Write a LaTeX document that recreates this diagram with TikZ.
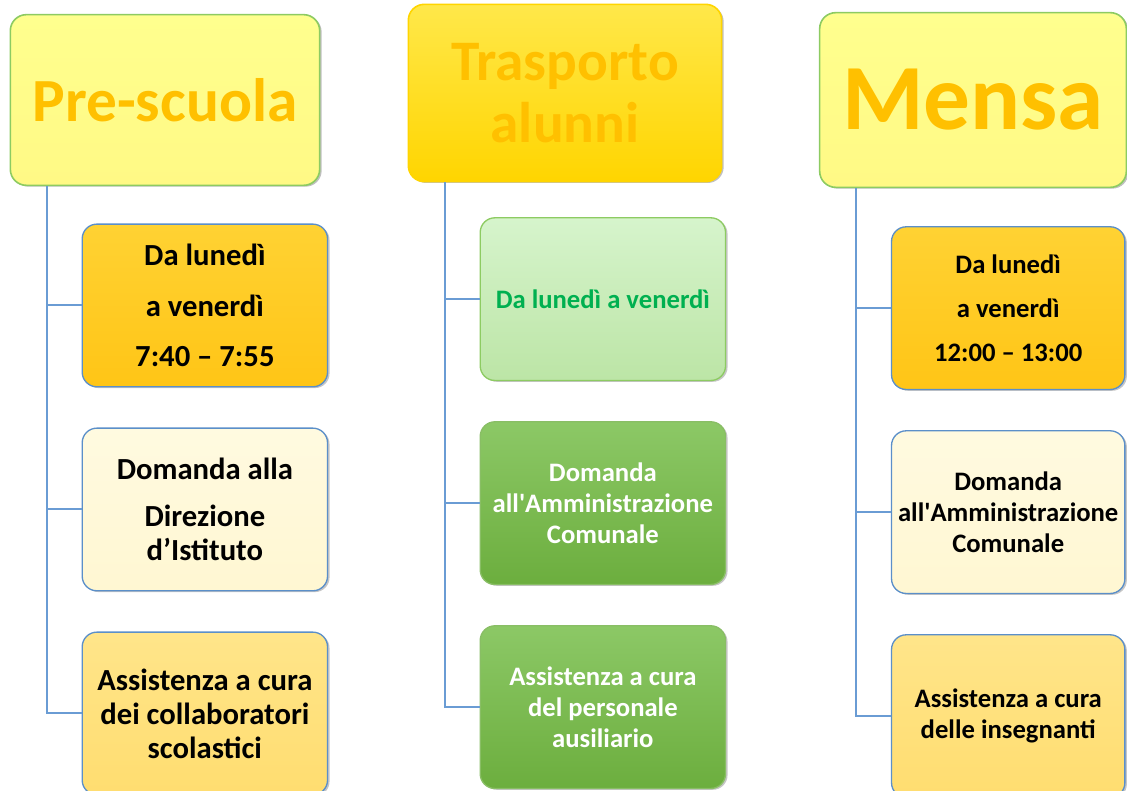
\documentclass[tikz,border=0pt]{standalone}
\usepackage{fontspec}
\setmainfont{Carlito}
\usetikzlibrary{positioning, shadows}
\definecolor{arancio}{HTML}{FFC000}
\definecolor{bordoverde}{HTML}{8DCB62}
\definecolor{bordoblu}{HTML}{5B8FC9}
\definecolor{linea}{HTML}{6A9CD4}
\definecolor{verdetesto}{HTML}{00B050}
\definecolor{giallosu}{HTML}{FFFF8E}
\definecolor{giallogiu}{HTML}{FFF985}
\definecolor{orosu}{HTML}{FFE84A}
\definecolor{orogiu}{HTML}{FFD500}
\definecolor{orariosu}{HTML}{FFD233}
\definecolor{orariogiu}{HTML}{FFC516}
\definecolor{cremasu}{HTML}{FFFAE0}
\definecolor{cremagiu}{HTML}{FFF7D2}
\definecolor{ambrasu}{HTML}{FFE58A}
\definecolor{ambragiu}{HTML}{FFDD70}
\definecolor{chiarosu}{HTML}{D6F4CC}
\definecolor{chiarogiu}{HTML}{BCE5A6}
\definecolor{verdesu}{HTML}{8CC866}
\definecolor{verdegiu}{HTML}{6CAE3E}
\tikzstyle{titolo} = [rectangle,
			rounded corners=12pt,
			draw=bordoverde,
			line width=1.2pt,
			top color=giallosu, bottom color=giallogiu,
			minimum width=232pt,
			minimum height=128pt,
			text=arancio,
			align=center,
			drop shadow={shadow xshift=1.5pt, shadow yshift=-1pt, opacity=0.5}]
\tikzstyle{box} = [rectangle,
			rounded corners=11pt,
			draw=bordoblu,
			line width=1pt,
			minimum width=184pt,
			minimum height=122pt,
			align=center,
			font=\bfseries\fontsize{23}{26}\selectfont,
			drop shadow={shadow xshift=1.5pt, shadow yshift=-1pt, opacity=0.45}]
\tikzstyle{orario} = [box, top color=orariosu, bottom color=orariogiu]
\tikzstyle{domanda} = [box, top color=cremasu, bottom color=cremagiu]
\tikzstyle{assist} = [box, top color=ambrasu, bottom color=ambragiu]
\tikzstyle{giorni} = [box, draw=bordoverde, top color=chiarosu, bottom color=chiarogiu, text=verdetesto]
\tikzstyle{verde} = [box, draw=verdegiu!80!white, top color=verdesu, bottom color=verdegiu, text=white]
\tikzstyle{ramo} = [draw=linea, line width=1.5pt]

\begin{document}
\begin{tikzpicture}[x=0.75pt, y=-0.75pt]
	\useasboundingbox (0,0) rectangle (1127,791);
	% titoli
	\node [titolo, font=\bfseries\fontsize{46}{50}\selectfont] (pre) at (165,100) {Pre-scuola};
	\node [titolo, draw=orogiu, top color=orosu, bottom color=orogiu,
		minimum width=235pt, minimum height=133pt, font=\bfseries\fontsize{43}{47}\selectfont] (tra) at (565,93) {Trasporto\\alunni};
	\node [titolo, minimum width=230pt, minimum height=131pt, font=\bfseries\fontsize{70}{74}\selectfont] (men) at (973,100) {Mensa};
	% pre-scuola
	\node [orario, below right=28pt and 54pt of pre.south west, font=\bfseries\fontsize{23}{38}\selectfont] (pre1) {Da lunedì\\a venerdì\\7:40 – 7:55};
	\node [domanda, below=30pt of pre1] (pre2) {Domanda alla\\[9pt]Direzione\\d’Istituto};
	\node [assist, below=30pt of pre2, font=\bfseries\fontsize{23}{25.5}\selectfont] (pre3) {Assistenza a cura\\dei collaboratori\\scolastici};
	% trasporto alunni
	\node [giorni, below right=26pt and 54pt of tra.south west, font=\bfseries\fontsize{20}{23}\selectfont] (tra1) {Da lunedì a venerdì};
	\node [verde, below=30pt of tra1, font=\bfseries\fontsize{20}{23}\selectfont] (tra2) {Domanda\\all\textquotesingle Amministrazione\\Comunale};
	\node [verde, below=30pt of tra2, font=\bfseries\fontsize{20}{23}\selectfont] (tra3) {Assistenza a cura\\del personale\\ausiliario};
	% mensa
	\node [orario, minimum width=175pt, below right=28.5pt and 54pt of men.south west, font=\bfseries\fontsize{20}{33}\selectfont] (men1) {Da lunedì\\a venerdì\\12:00 – 13:00};
	\node [domanda, minimum width=175pt, below=30pt of men1, font=\bfseries\fontsize{20}{23}\selectfont] (men2) {Domanda\\all\textquotesingle Amministrazione\\Comunale};
	\node [assist, minimum width=175pt, below=30pt of men2, font=\bfseries\fontsize{20}{23}\selectfont] (men3) {Assistenza a cura\\delle insegnanti};
	% rami
	\foreach \c in {pre, tra, men} {
		\coordinate [right=28pt of \c.south west] (\c-spina);
		\path [ramo] (\c-spina) |- (\c3.west);
		\path [ramo] (\c-spina |- \c1.west) -- (\c1.west);
		\path [ramo] (\c-spina |- \c2.west) -- (\c2.west);
	}
\end{tikzpicture}
\end{document}
